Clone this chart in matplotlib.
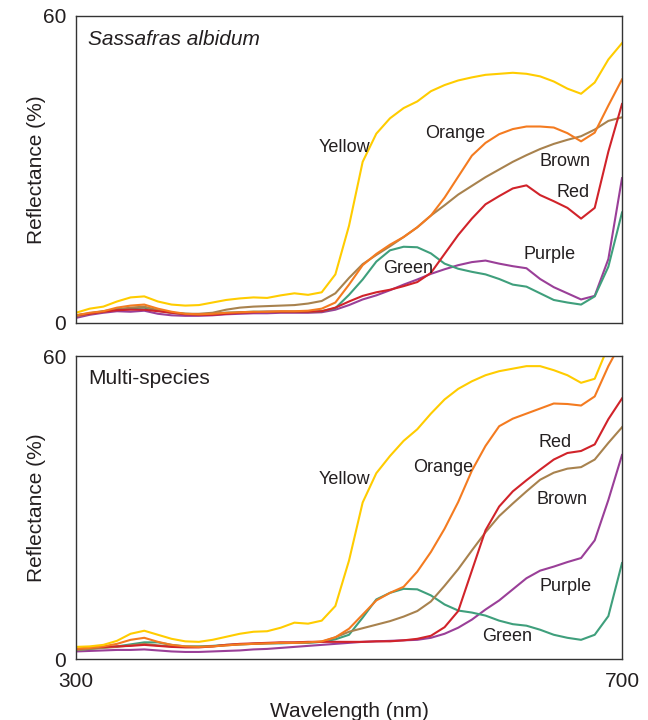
import matplotlib
matplotlib.use("Agg")
import matplotlib.pyplot as plt

plt.rcParams['font.family'] = ['Liberation Sans', 'DejaVu Sans']

wl = [300, 310, 320, 330, 340, 350, 360, 370, 380, 390, 400, 410, 420, 430, 440,
      450, 460, 470, 480, 490, 500, 510, 520, 530, 540, 550, 560, 570, 580, 590,
      600, 610, 620, 630, 640, 650, 660, 670, 680, 690, 700]

# Sassafras albidum
sa_yellow = [2.0, 2.8, 3.2, 4.2, 5.0, 5.2, 4.2, 3.6, 3.4, 3.5, 4.0, 4.5, 4.8, 5.0, 4.9,
             5.4, 5.8, 5.5, 6.0, 9.5, 19.0, 31.5, 37.0, 40.0, 42.0, 43.3, 45.3, 46.5, 47.4, 48.0,
             48.5, 48.7, 48.9, 48.7, 48.2, 47.2, 45.8, 44.8, 47.0, 51.5, 54.7]
sa_orange = [1.5, 2.0, 2.3, 3.0, 3.4, 3.6, 2.8, 2.2, 1.8, 1.7, 1.8, 2.0, 2.1, 2.2, 2.2,
             2.3, 2.3, 2.4, 2.8, 4.0, 7.5, 11.3, 13.5, 15.3, 16.8, 18.7, 21.0, 24.5, 28.6, 32.7,
             35.2, 36.9, 37.9, 38.4, 38.4, 38.2, 37.1, 35.5, 37.2, 42.5, 47.6]
sa_brown = [1.3, 1.8, 2.2, 2.6, 3.0, 3.2, 2.5, 2.0, 1.8, 1.8, 2.0, 2.6, 3.0, 3.2, 3.3,
            3.4, 3.5, 3.8, 4.3, 5.8, 8.8, 11.5, 13.3, 15.0, 16.8, 18.7, 21.0, 23.0, 25.1, 26.8,
            28.5, 30.0, 31.5, 32.8, 34.0, 35.0, 35.8, 36.5, 37.8, 39.5, 40.2]
sa_red = [1.5, 1.8, 2.2, 2.5, 2.6, 2.6, 2.3, 2.0, 1.7, 1.6, 1.6, 1.8, 2.0, 2.1, 2.2,
          2.2, 2.2, 2.2, 2.3, 3.0, 4.2, 5.3, 6.0, 6.5, 7.2, 8.0, 9.8, 13.5, 17.2, 20.4,
          23.2, 24.8, 26.3, 26.9, 25.0, 23.8, 22.5, 20.4, 22.5, 33.5, 42.8]
sa_green = [1.5, 1.9, 2.3, 2.7, 2.9, 3.0, 2.4, 2.0, 1.8, 1.7, 1.8, 2.0, 2.1, 2.2, 2.2,
            2.2, 2.2, 2.2, 2.3, 2.9, 5.5, 8.5, 12.0, 14.2, 14.9, 14.8, 13.6, 11.6, 10.6, 10.0,
            9.5, 8.6, 7.5, 7.1, 5.8, 4.5, 4.0, 3.6, 5.2, 11.0, 21.6]
sa_purple = [1.0, 1.6, 2.0, 2.3, 2.2, 2.4, 1.8, 1.5, 1.4, 1.4, 1.5, 1.7, 1.8, 1.9, 1.9,
             2.0, 2.0, 2.0, 2.1, 2.6, 3.5, 4.6, 5.4, 6.4, 7.5, 8.5, 9.6, 10.5, 11.3, 11.9,
             12.2, 11.6, 11.1, 10.7, 8.6, 7.0, 5.8, 4.6, 5.3, 12.5, 28.3]

# Multi-species
ms_yellow = [2.4, 2.5, 2.8, 3.6, 5.0, 5.6, 4.8, 4.0, 3.5, 3.4, 3.8, 4.4, 5.0, 5.4, 5.5,
             6.2, 7.2, 7.0, 7.6, 10.5, 19.5, 31.0, 36.8, 40.2, 43.2, 45.5, 48.6, 51.4, 53.5, 55.0,
             56.2, 57.0, 57.5, 58.0, 58.0, 57.2, 56.2, 54.7, 55.5, 62.0, 68.0]
ms_orange = [2.0, 2.2, 2.5, 3.0, 3.8, 4.2, 3.4, 2.8, 2.5, 2.4, 2.5, 2.7, 2.9, 3.0, 3.1,
             3.2, 3.2, 3.3, 3.5, 4.3, 6.0, 8.8, 11.6, 13.1, 14.3, 17.3, 21.2, 25.8, 31.1, 37.3,
             42.2, 46.1, 47.6, 48.6, 49.6, 50.6, 50.5, 50.2, 52.0, 58.0, 63.0]
ms_red = [2.0, 2.3, 2.4, 2.5, 2.6, 2.8, 2.6, 2.4, 2.3, 2.3, 2.5, 2.8, 3.0, 3.1, 3.2,
          3.3, 3.3, 3.4, 3.4, 3.4, 3.4, 3.4, 3.5, 3.5, 3.7, 4.0, 4.6, 6.3, 9.5, 17.5,
          25.5, 30.2, 33.2, 35.4, 37.5, 39.5, 40.8, 41.2, 42.5, 47.5, 51.6]
ms_brown = [1.8, 2.0, 2.2, 2.4, 2.7, 3.0, 2.7, 2.5, 2.4, 2.4, 2.5, 2.7, 2.9, 3.0, 3.1,
            3.2, 3.2, 3.3, 3.4, 4.3, 5.4, 6.1, 6.8, 7.5, 8.4, 9.5, 11.4, 14.5, 17.8, 21.5,
            25.1, 28.3, 30.8, 33.2, 35.5, 36.9, 37.7, 38.0, 39.5, 42.8, 45.9]
ms_purple = [1.5, 1.6, 1.7, 1.8, 1.8, 1.9, 1.7, 1.5, 1.4, 1.4, 1.5, 1.6, 1.7, 1.9, 2.0,
             2.2, 2.4, 2.6, 2.8, 3.0, 3.2, 3.4, 3.5, 3.6, 3.7, 3.8, 4.2, 5.0, 6.2, 7.8,
             9.8, 11.6, 13.8, 16.0, 17.5, 18.3, 19.2, 20.0, 23.5, 31.5, 40.4]
ms_green = [1.8, 2.0, 2.3, 2.5, 2.9, 3.3, 3.3, 2.8, 2.5, 2.5, 2.6, 2.8, 2.9, 3.0, 3.1,
            3.1, 3.2, 3.2, 3.4, 3.9, 4.8, 8.2, 11.8, 13.1, 13.9, 13.8, 12.6, 10.8, 9.6, 9.2,
            8.6, 7.6, 6.9, 6.6, 5.8, 4.8, 4.2, 3.8, 4.8, 8.5, 19.0]

names = ['Yellow', 'Orange', 'Brown', 'Red', 'Green', 'Purple']
colors = {'Yellow': '#ffcc00', 'Orange': '#f47b20', 'Brown': '#a8824e',
          'Red': '#d1232a', 'Green': '#3f9f7c', 'Purple': '#9a3f98'}

top_series = dict(zip(names, [sa_yellow, sa_orange, sa_brown, sa_red, sa_green, sa_purple]))
bot_series = dict(zip(names, [ms_yellow, ms_orange, ms_brown, ms_red, ms_green, ms_purple]))

# label anchor points (wavelength, reflectance)
top_labels = {'Yellow': (497, 34.2), 'Orange': (578, 37.1), 'Brown': (658, 31.5),
              'Red': (664, 25.6), 'Green': (543, 10.7), 'Purple': (647, 13.3)}
bot_labels = {'Yellow': (497, 35.6), 'Orange': (569, 38.0), 'Brown': (656, 31.5),
              'Red': (651, 42.8), 'Green': (616, 4.4), 'Purple': (659, 14.3)}

fig = plt.figure(figsize=(6.48, 7.2), dpi=100)
ax1 = fig.add_axes([0.1173, 0.5514, 0.8426, 0.4264])
ax2 = fig.add_axes([0.1173, 0.0847, 0.8426, 0.4208])

draw_order = ['Purple', 'Green', 'Brown', 'Red', 'Orange', 'Yellow']

for ax, series, labels, title, style in [
        (ax1, top_series, top_labels, 'Sassafras albidum', 'italic'),
        (ax2, bot_series, bot_labels, 'Multi-species', 'normal')]:
    for n in draw_order:
        ax.plot(wl, series[n], color=colors[n], lw=1.5, solid_joinstyle='round')
    for n in names:
        x, y = labels[n]
        ax.text(x, y, n, fontsize=13, ha='center', va='center', color='#231f20')
    ax.text(0.022, 0.925, title, transform=ax.transAxes, fontsize=15,
            style=style, ha='left', va='center', color='#231f20')
    ax.set_xlim(300, 700)
    ax.set_ylim(0, 60)
    ax.set_yticks([0, 60])
    ax.tick_params(length=0, labelsize=15, pad=7, colors='#231f20')
    ax.set_ylabel('Reflectance (%)', fontsize=15, color='#231f20', labelpad=-2)
    for sp in ax.spines.values():
        sp.set_linewidth(1.0)
        sp.set_color('#333333')

ax1.set_xticks([])
ax2.set_xticks([300, 700])
ax2.tick_params(axis='x', pad=9)
ax2.set_xlabel('Wavelength (nm)', fontsize=15, color='#231f20', labelpad=8)

fig.savefig('out.png', dpi=100)
